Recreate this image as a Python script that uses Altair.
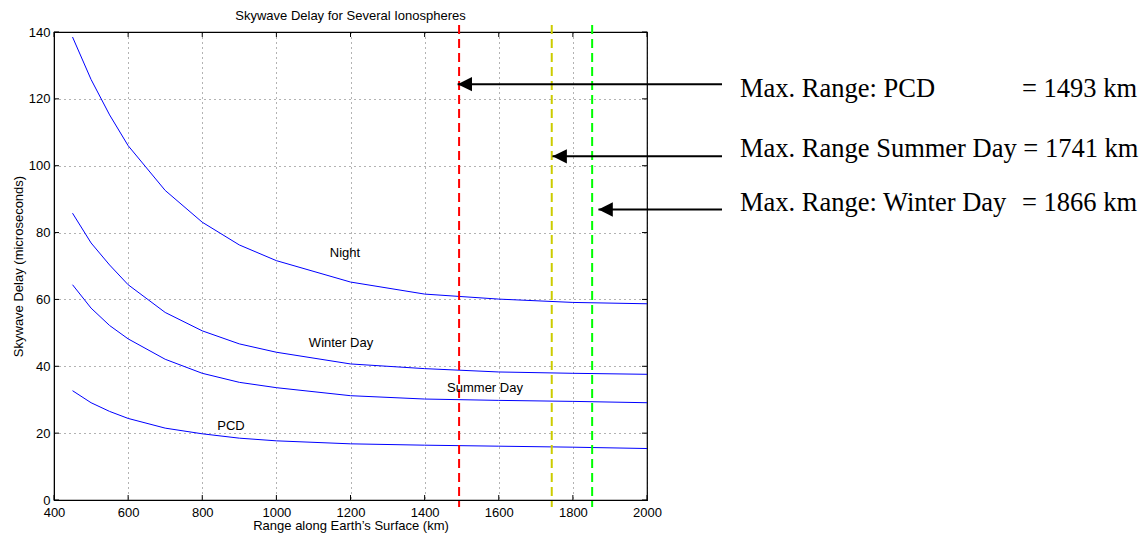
import altair as alt
import pandas as pd

# ---------------- data ----------------
x_km = [450, 500, 550, 600, 700, 800, 900, 1000, 1200, 1400, 1600, 1800, 2000]
night = [138.5, 125.8, 115.2, 106.0, 92.6, 83.1, 76.3, 71.6, 65.2, 61.6, 60.1, 59.1, 58.7]
winter_day = [85.8, 76.9, 70.3, 64.4, 56.1, 50.6, 46.7, 44.2, 40.7, 39.3, 38.3, 37.9, 37.6]
summer_day = [64.4, 57.4, 52.2, 48.2, 42.1, 37.9, 35.2, 33.6, 31.2, 30.2, 29.8, 29.5, 29.1]
pcd = [32.7, 29.1, 26.5, 24.4, 21.5, 19.8, 18.5, 17.7, 16.8, 16.4, 16.1, 15.8, 15.4]
series_names = ["Night", "Winter Day", "Summer Day", "PCD"]

max_range_lines = [1493, 1743, 1852]          # dashed lines as drawn
max_range_colors = ["#ff0000", "#cccc00", "#00ff00"]
arrow_tips = [1489, 1745, 1869]
arrow_levels = [124.4, 102.8, 86.9]
annot_left = ["Max. Range: PCD", "Max. Range Summer Day = 1741 km", "Max. Range: Winter Day"]
annot_right = ["= 1493 km", "", "= 1866 km"]

x_ticks = [400, 600, 800, 1000, 1200, 1400, 1600, 1800, 2000]
y_ticks = [0, 20, 40, 60, 80, 100, 120, 140]

TITLE = "Skywave Delay for Several Ionospheres"
X_TITLE = "Range along Earth\u2019s Surface (km)"
Y_TITLE = "Skywave Delay (microseconds)"

# ---------------- layout ----------------
W, H = 593, 468
LEFT, TOP = 54, 32
SANS = "Liberation Sans"
SERIF = "Liberation Serif"

rows = []
for name, vals in zip(series_names, [night, winter_day, summer_day, pcd]):
    for x, y in zip(x_km, vals):
        rows.append({"series": name, "x": x, "y": y})
curve_df = pd.DataFrame(rows)

xs = alt.Scale(domain=[400, 2000], nice=False, zero=False)
ys = alt.Scale(domain=[0, 140], nice=False, zero=False)

common_axis = dict(
    labelFont=SANS, labelFontSize=13, labelColor="black", format="d",
    titleFont=SANS, titleFontSize=13, titleFontWeight="normal", titleColor="black",
    domain=True, domainColor="black", domainWidth=1,
    ticks=False, tickSize=0,
    grid=True, gridColor="black", gridDash=[1, 4], gridOpacity=0.6, gridWidth=1,
    labelFlush=False, labelOverlap=False,
)
x_axis = alt.Axis(values=x_ticks, title=X_TITLE, titleX=W / 2, titleY=29, labelPadding=6,
                  titleBaseline="alphabetic", **common_axis)
y_axis = alt.Axis(values=y_ticks, title=Y_TITLE, titleX=-36, titleY=H / 2, titleAngle=-90,
                  labelPadding=4, titleAlign="center", titleBaseline="middle", **common_axis)
X = lambda: alt.X("x:Q", scale=xs, axis=x_axis)
Y = lambda: alt.Y("y:Q", scale=ys, axis=y_axis)

curves = alt.Chart(curve_df).mark_line(color="#0000ff", strokeWidth=1).encode(
    x=X(), y=Y(), detail="series:N", order="x:Q",
)

# inward ticks on all four sides
xt_df = pd.DataFrame({"x": x_ticks})
yt_df = pd.DataFrame({"y": y_ticks})
tick_style = dict(color="black", strokeWidth=1)
ticks_bottom = alt.Chart(xt_df).mark_rule(**tick_style).encode(
    x=X(), y=alt.value(H), y2=alt.value(H - 5))
ticks_top = alt.Chart(xt_df).mark_rule(**tick_style).encode(
    x=X(), y=alt.value(0), y2=alt.value(5))
ticks_left = alt.Chart(yt_df).mark_rule(**tick_style).encode(
    y=Y(), x=alt.value(0), x2=alt.value(5))
ticks_right = alt.Chart(yt_df).mark_rule(**tick_style).encode(
    y=Y(), x=alt.value(W), x2=alt.value(W - 5))

# dashed vertical max-range lines
vl_df = pd.DataFrame({"x": max_range_lines, "c": max_range_colors})
vlines = alt.Chart(vl_df).mark_rule(strokeWidth=2, strokeDash=[9, 5]).encode(
    x=X(),
    y=alt.value(-7), y2=alt.value(475),
    color=alt.Color("c:N", scale=None, legend=None),
)

# arrows
ar_df = pd.DataFrame({"x": arrow_tips, "y": arrow_levels})
shafts = alt.Chart(ar_df).mark_rule(color="black", strokeWidth=2).encode(
    x=X(), x2=alt.value(722 - LEFT), y=Y(),
)
heads = alt.Chart(ar_df).mark_point(
    shape="M0,0L2,-1L2,1Z", size=207, filled=True, color="black", opacity=1, strokeWidth=0
).encode(x=X(), y=Y())


def text_layer(txt, px, py, size, font, align="left", baseline="alphabetic"):
    return alt.Chart(pd.DataFrame({"t": [txt]})).mark_text(
        align=align, baseline=baseline, font=font, fontSize=size, color="black"
    ).encode(text="t:N", x=alt.value(px), y=alt.value(py))


texts = [text_layer(TITLE, W / 2, -12, 13, SANS, align="center")]
label_pos = {"Night": (291, 221), "Winter Day": (287, 311), "Summer Day": (431, 356), "PCD": (177, 394)}
for name in series_names:
    px, py = label_pos[name]
    texts.append(text_layer(name, px, py, 13, SANS, align="center", baseline="middle"))

annot_y = [97 - TOP, 157 - TOP, 211 - TOP]
for lt, rt, yy in zip(annot_left, annot_right, annot_y):
    texts.append(text_layer(lt, 740 - LEFT, yy, 26.5, SERIF, align="left"))
    if rt:
        texts.append(text_layer(rt, 1137 - LEFT, yy, 26.5, SERIF, align="right"))

chart = alt.layer(
    curves, ticks_bottom, ticks_top, ticks_left, ticks_right, vlines, shafts, heads, *texts
).properties(
    width=W, height=H,
    autosize=alt.AutoSizeParams(type="none"),
    padding={"left": LEFT, "top": TOP, "right": 1146 - LEFT - W, "bottom": 537 - TOP - H},
    background="white",
).configure_view(stroke="black", strokeWidth=1.2)

chart.save("out.html", embed_options={"renderer": "svg", "actions": False})
